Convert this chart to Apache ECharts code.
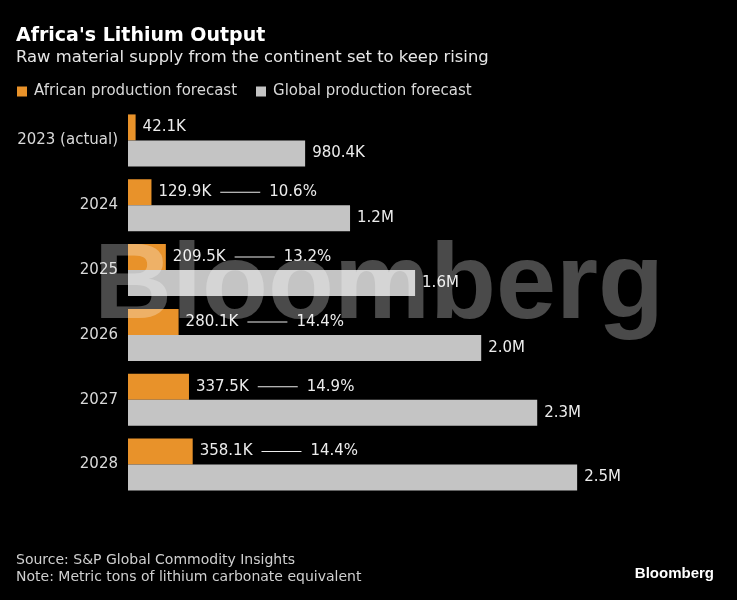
<!DOCTYPE html>
<html>
<head>
<meta charset="utf-8">
<script src="https://cdn.jsdelivr.net/npm/echarts@6/dist/echarts.min.js"></script>
<style>
html,body{margin:0;padding:0;background:#000;}
#c{width:737px;height:600px;}
</style>
</head>
<body>
<div id="c"></div>
<script>
var categories = ['2023 (actual)', '2024', '2025', '2026', '2027', '2028'];
var africanK = [42.1, 129.9, 209.5, 280.1, 337.5, 358.1];
var globalK = [980.4, 1229, 1589, 1955, 2265, 2486];
var africanLabels = ['42.1K', '129.9K', '209.5K', '280.1K', '337.5K', '358.1K'];
var shareLabels = ['', '10.6%', '13.2%', '14.4%', '14.9%', '14.4%'];
var globalLabels = ['980.4K', '1.2M', '1.6M', '2.0M', '2.3M', '2.5M'];

var FONT = '"DejaVu Sans", sans-serif';
var chart = echarts.init(document.getElementById('c'));
chart.setOption({
  backgroundColor: '#000',
  animation: false,
  textStyle: { fontFamily: FONT },
  title: [
    { text: "Africa's Lithium Output", left: 16, top: 27, padding: 0,
      textStyle: { color: '#fff', fontSize: 19, fontWeight: 'bold', fontFamily: FONT } },
    { text: 'Raw material supply from the continent set to keep rising', left: 16, top: 50, padding: 0,
      textStyle: { color: '#e6e6e6', fontSize: 16.4, fontWeight: 'normal', fontFamily: FONT } }
  ],
  legend: {
    left: 17, top: 84, padding: 0, icon: 'rect', itemWidth: 10, itemHeight: 10, itemGap: 19,
    textStyle: { color: '#d9d9d9', fontSize: 15, fontFamily: FONT, padding: [0, 0, 0, 2] },
    data: ['African production forecast', 'Global production forecast']
  },
  grid: { left: 128, right: 67, top: 108, bottom: 103, containLabel: false },
  xAxis: { type: 'value', min: 0, max: 3000, show: false },
  yAxis: {
    type: 'category', inverse: true, data: categories,
    axisLine: { show: false }, axisTick: { show: false },
    axisLabel: { color: '#d9d9d9', fontSize: 15, margin: 10, fontFamily: FONT }
  },
  series: [
    {
      name: 'African production forecast', type: 'bar', data: africanK,
      barWidth: 26, barGap: '0%', itemStyle: { color: '#e8922a' },
      label: {
        show: true, position: 'right', distance: 7,
        color: '#ececec', fontSize: 15, fontFamily: FONT,
        formatter: function (p) {
          var s = shareLabels[p.dataIndex];
          if (!s) return '{a|' + africanLabels[p.dataIndex] + '}';
          return '{a|' + africanLabels[p.dataIndex] + '}{sp| }{ln| }{sp| }{a|' + s + '}';
        },
        rich: {
          a: { color: '#ececec', fontSize: 15, fontFamily: FONT },
          sp: { width: 9, fontSize: 15 },
          ln: { width: 40, height: 1, fontSize: 1, backgroundColor: '#ececec', verticalAlign: 'middle' }
        }
      }
    },
    {
      name: 'Global production forecast', type: 'bar', data: globalK,
      barWidth: 26, itemStyle: { color: '#c4c4c4' },
      label: {
        show: true, position: 'right', distance: 7,
        color: '#ececec', fontSize: 15, fontFamily: FONT,
        formatter: function (p) { return globalLabels[p.dataIndex]; }
      }
    }
  ],
  graphic: [
    { type: 'text', left: 94, top: 234, z: 100, silent: true,
      style: { text: 'Bloomberg', fill: 'rgba(255,255,255,0.29)', fontSize: 108, fontWeight: 'bold',
        fontFamily: '"Liberation Sans", Arial, sans-serif' } },
    { type: 'text', left: 16, top: 553,
      style: { text: 'Source: S&P Global Commodity Insights', fill: '#cfcfcf', fontSize: 14, fontFamily: FONT } },
    { type: 'text', left: 16, top: 570,
      style: { text: 'Note: Metric tons of lithium carbonate equivalent', fill: '#cfcfcf', fontSize: 14, fontFamily: FONT } },
    { type: 'text', right: 23, top: 566,
      style: { text: 'Bloomberg', fill: '#fff', fontSize: 15, fontWeight: 'bold', fontFamily: '"Liberation Sans", Arial, sans-serif' } }
  ]
});
</script>
</body>
</html>
